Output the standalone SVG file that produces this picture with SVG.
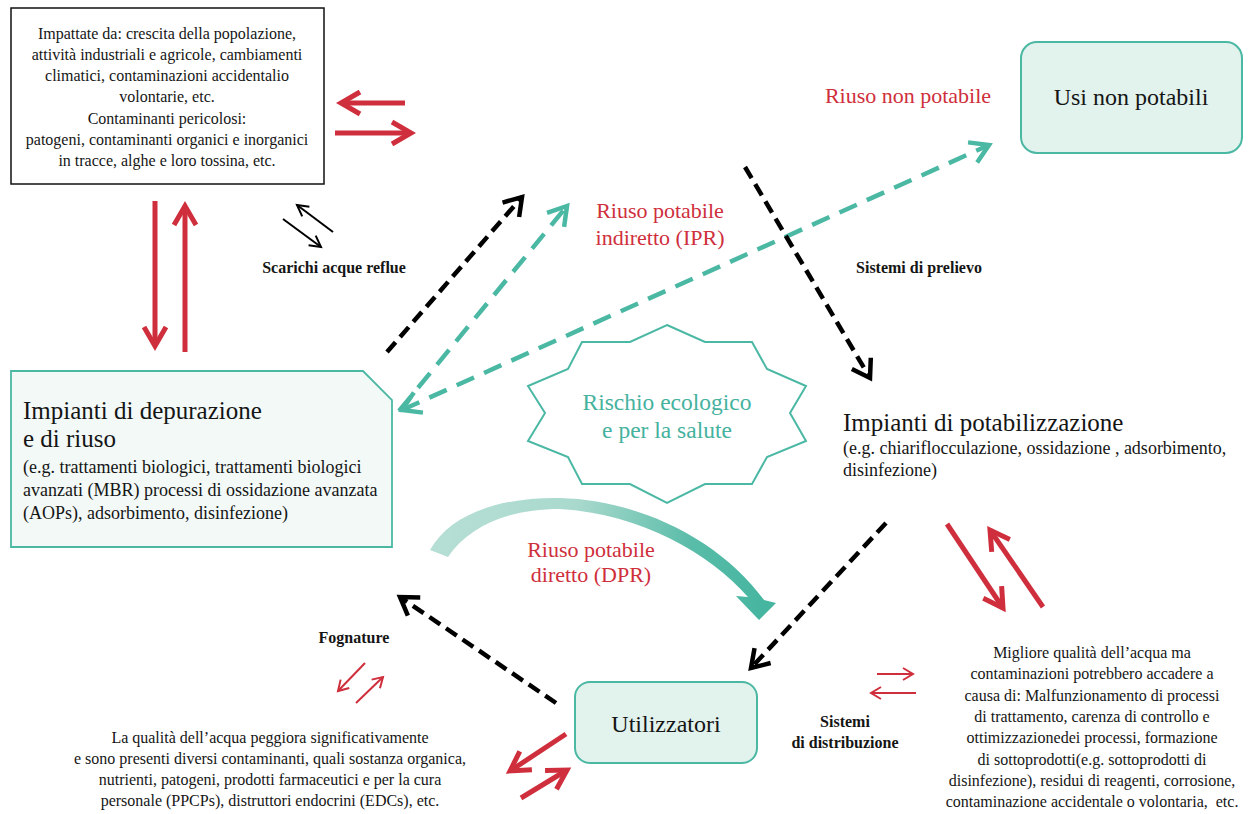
<svg xmlns="http://www.w3.org/2000/svg" width="1248" height="814" viewBox="0 0 1248 814">
<style>
.t{font-family:"Liberation Serif","Times New Roman",serif;fill:#151515}
.s16{font-size:16px}
.s18{font-size:18px}
.s24{font-size:24px}
.s25{font-size:25px}
.b{font-weight:bold}
.red{fill:#cf2f3c;font-size:22px}
.tealt{fill:#45b29e;font-size:23.5px}
.mid{text-anchor:middle}
.rbig{fill:none;stroke:#cf2f3c;stroke-width:5}
.rthin{fill:none;stroke:#cf2f3c;stroke-width:2}
.kthin{fill:none;stroke:#000;stroke-width:2}
.kdash{fill:none;stroke:#000;stroke-width:4.5;stroke-dasharray:13 7}
.tdash{fill:none;stroke:#4bb8a4;stroke-width:4.5;stroke-dasharray:19 11}
.box{fill:#e2f2ec;stroke:#4bb8a4;stroke-width:2}
</style>
<defs>
<marker id="mRed" markerUnits="userSpaceOnUse" orient="auto" refX="0" refY="0" markerWidth="40" markerHeight="40" overflow="visible">
<path d="M-19,-11 L0,0 L-19,11" fill="none" stroke="#cf2f3c" stroke-width="5"/>
</marker>
<marker id="mRedThin" markerUnits="userSpaceOnUse" orient="auto" refX="0" refY="0" markerWidth="20" markerHeight="20" overflow="visible">
<path d="M-10,-6 L0,0 L-10,6" fill="none" stroke="#cf2f3c" stroke-width="2"/>
</marker>
<marker id="mBlack" markerUnits="userSpaceOnUse" orient="auto" refX="0" refY="0" markerWidth="40" markerHeight="40" overflow="visible">
<path d="M-17,-11 L0,0 L-17,11" fill="none" stroke="#000" stroke-width="4.5"/>
</marker>
<marker id="mBlackThin" markerUnits="userSpaceOnUse" orient="auto" refX="0" refY="0" markerWidth="20" markerHeight="20" overflow="visible">
<path d="M-11,-6 L0,0 L-11,6" fill="none" stroke="#000" stroke-width="2"/>
</marker>
<marker id="mTeal" markerUnits="userSpaceOnUse" orient="auto-start-reverse" refX="0" refY="0" markerWidth="40" markerHeight="40" overflow="visible">
<path d="M-18,-11 L0,0 L-18,11" fill="none" stroke="#4bb8a4" stroke-width="4.5"/>
</marker>
<linearGradient id="gDpr" gradientUnits="userSpaceOnUse" x1="430" y1="520" x2="770" y2="600">
<stop offset="0" stop-color="#b7dfd5"/>
<stop offset="0.4" stop-color="#a9d9cd"/>
<stop offset="0.75" stop-color="#58bca8"/>
<stop offset="1" stop-color="#45b5a0"/>
</linearGradient>
</defs>
<rect width="1248" height="814" fill="#fff"/>

<g id="connectors">
<path class="rbig" d="M155,201 L155,346" marker-end="url(#mRed)"/>
<path class="rbig" d="M185,352 L185,206" marker-end="url(#mRed)"/>
<path class="rbig" d="M405,103 L341,103" marker-end="url(#mRed)"/>
<path class="rbig" d="M335,133 L411,133" marker-end="url(#mRed)"/>
<path class="kthin" d="M333,232 L297,205" marker-end="url(#mBlackThin)"/>
<path class="kthin" d="M283,219 L321,247" marker-end="url(#mBlackThin)"/>
<path class="kdash" d="M387,352 L522,197" marker-end="url(#mBlack)"/>
<path class="tdash" d="M399,411 L567,206" marker-end="url(#mTeal)"/>
<path class="tdash" d="M402,410 L989,145" marker-start="url(#mTeal)" marker-end="url(#mTeal)"/>
<path class="kdash" d="M745,167 L870,378" marker-end="url(#mBlack)"/>
<path class="kdash" d="M886,523 L751,668" marker-end="url(#mBlack)"/>
<path class="kdash" d="M556,703 L400,597" marker-end="url(#mBlack)"/>
<path class="rbig" d="M947,524 L1003,608" marker-end="url(#mRed)"/>
<path class="rbig" d="M1043,607 L990,530" marker-end="url(#mRed)"/>
<path class="rthin" d="M877,674 L913,674" marker-end="url(#mRedThin)"/>
<path class="rthin" d="M916,693 L871,693" marker-end="url(#mRedThin)"/>
<path class="rthin" d="M365,663 L338,691" marker-end="url(#mRedThin)"/>
<path class="rthin" d="M356,703 L383,677" marker-end="url(#mRedThin)"/>
<path class="rbig" d="M566,734 L510,771" marker-end="url(#mRed)"/>
<path class="rbig" d="M521,798 L567,770" marker-end="url(#mRed)"/>
<path id="dpr-arrow" fill="url(#gDpr)" d="M430,550 C450,514 500,497 560,498 C640,500 720,540 764,600 L776,603 L759,620 L736,596 L748,597 C710,554 642,514 560,509 C510,509 470,525 448,557 Z"/>
</g>

<g id="n-contaminazioni">
<rect x="11" y="8" width="313" height="176" fill="#fff" stroke="#111" stroke-width="1.5"/>
<text class="t s16 mid" x="167"><tspan x="167" y="39">Impattate da: crescita della popolazione,</tspan><tspan x="167" y="60">attività industriali e agricole, cambiamenti</tspan><tspan x="167" y="81">climatici, contaminazioni accidentalio</tspan><tspan x="167" y="102">volontarie, etc.</tspan><tspan x="167" y="124">Contaminanti pericolosi:</tspan><tspan x="167" y="145">patogeni, contaminanti organici e inorganici</tspan><tspan x="167" y="166">in tracce, alghe e loro tossina, etc.</tspan></text>
</g>

<g id="n-usi-non-potabili">
<rect class="box" x="1021" y="42" width="221" height="111" rx="16"/>
<text class="t s24 mid" x="1131" y="105">Usi non potabili</text>
</g>

<g id="n-depurazione">
<path d="M11,371 L363,371 L392,400 L392,547 L11,547 Z" fill="#f2f9f7" stroke="#4bb8a4" stroke-width="1.8"/>
<text class="t s25" x="23" y="419">Impianti di depurazione</text>
<text class="t s25" x="23" y="447">e di riuso</text>
<text class="t s18" x="23"><tspan x="23" y="473">(e.g. trattamenti biologici, trattamenti biologici</tspan><tspan x="23" y="496">avanzati (MBR) processi di ossidazione avanzata</tspan><tspan x="23" y="519">(AOPs), adsorbimento, disinfezione)</tspan></text>
</g>

<g id="n-rischio">
<polygon points="667,325 705,342 752,342 767,369 806,386 790,413 806,441 767,457 752,484 705,484 667,503 630,484 582,484 568,457 528,441 545,413 528,386 568,369 582,342 630,342" fill="#fff" stroke="#4bb8a4" stroke-width="2"/>
<text class="t tealt mid" x="667" y="410">Rischio ecologico</text>
<text class="t tealt mid" x="667" y="438">e per la salute</text>
</g>

<g id="n-potabilizzazione">
<text class="t s25" x="843" y="431">Impianti di potabilizzazione</text>
<text class="t s18" x="843"><tspan x="843" y="454">(e.g. chiariflocculazione, ossidazione , adsorbimento,</tspan><tspan x="843" y="476">disinfezione)</tspan></text>
</g>

<g id="n-utilizzatori">
<rect class="box" x="575" y="682" width="182" height="81" rx="15"/>
<text class="t s24 mid" x="666" y="732">Utilizzatori</text>
</g>

<g id="n-qualita-utilizzatori">
<text class="t s16 mid" x="270"><tspan x="270" y="743">La qualità dell’acqua peggiora significativamente</tspan><tspan x="270" y="764">e sono presenti diversi contaminanti, quali sostanza organica,</tspan><tspan x="270" y="785">nutrienti, patogeni, prodotti farmaceutici e per la cura</tspan><tspan x="270" y="806">personale (PPCPs), distruttori endocrini (EDCs), etc.</tspan></text>
</g>

<g id="n-qualita-distribuzione">
<text class="t s16 mid" x="1092"><tspan x="1092" y="658">Migliore qualità dell’acqua ma</tspan><tspan x="1092" y="679">contaminazioni potrebbero accadere a</tspan><tspan x="1092" y="701">causa di: Malfunzionamento di processi</tspan><tspan x="1092" y="722">di trattamento, carenza di controllo e</tspan><tspan x="1092" y="743">ottimizzazionedei processi, formazione</tspan><tspan x="1092" y="765">di sottoprodotti(e.g. sottoprodotti di</tspan><tspan x="1092" y="786">disinfezione), residui di reagenti, corrosione,</tspan><tspan x="1092" y="807">contaminazione accidentale o volontaria,&#160; etc.</tspan></text>
</g>

<g id="labels">
<text class="t s16 b mid" x="334" y="273">Scarichi acque reflue</text>
<text class="t s16 b mid" x="919" y="273">Sistemi di prelievo</text>
<text class="t s16 b mid" x="354" y="643">Fognature</text>
<text class="t s16 b mid" x="845" y="727">Sistemi</text>
<text class="t s16 b mid" x="845" y="748">di distribuzione</text>
<text class="t red mid" x="908" y="103">Riuso non potabile</text>
<text class="t red mid" x="660" y="218">Riuso potabile</text>
<text class="t red mid" x="660" y="245">indiretto (IPR)</text>
<text class="t red mid" x="591" y="557">Riuso potabile</text>
<text class="t red mid" x="591" y="582">diretto (DPR)</text>
</g>
</svg>
